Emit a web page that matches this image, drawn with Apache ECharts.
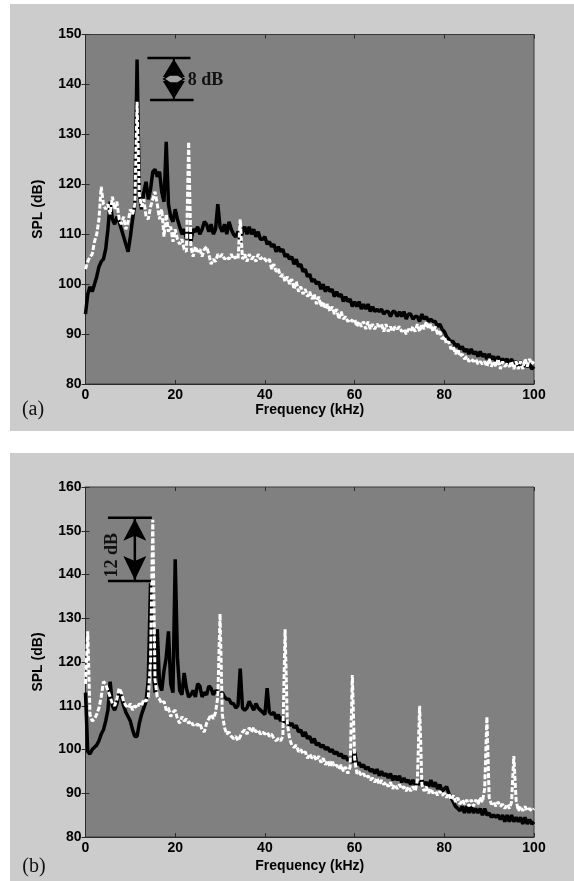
<!DOCTYPE html>
<html><head><meta charset="utf-8">
<script src="https://cdn.jsdelivr.net/npm/echarts@6/dist/echarts.min.js"></script>
<style>html,body{margin:0;padding:0;background:#fff}#c{width:574px;height:881px}</style>
</head><body><div id="c"></div>
<script>
// Frequency sampling (kHz)
const freq = [0,0.5,1,1.5,2,2.5,3,3.5,4,4.5,5,5.5,6,6.5,7,7.5,8,8.5,9,9.5,
10,10.5,11,11.5,12,12.5,13,13.5,14,14.5,15,15.5,16,16.5,17,17.5,18,18.5,19,19.5,
20,20.5,21,21.5,22,22.5,23,23.5,24,24.5,25,25.5,26,26.5,27,27.5,28,28.5,29,29.5,
30,30.5,31,31.5,32,32.5,33,33.5,34,34.5,35,35.5,36,36.5,37,37.5,38,38.5,39,39.5,
40,40.5,41,41.5,42,42.5,43,43.5,44,44.5,45,45.5,46,46.5,47,47.5,48,48.5,49,49.5,
50,50.5,51,51.5,52,52.5,53,53.5,54,54.5,55,55.5,56,56.5,57,57.5,58,58.5,59,59.5,
60,60.5,61,61.5,62,62.5,63,63.5,64,64.5,65,65.5,66,66.5,67,67.5,68,68.5,69,69.5,
70,70.5,71,71.5,72,72.5,73,73.5,74,74.5,75,75.5,76,76.5,77,77.5,78,78.5,79,79.5,
80,80.5,81,81.5,82,82.5,83,83.5,84,84.5,85,85.5,86,86.5,87,87.5,88,88.5,89,89.5,
90,90.5,91,91.5,92,92.5,93,93.5,94,94.5,95,95.5,96,96.5,97,97.5,98,98.5,99,99.5,100];

// Panel (a): SPL (dB)
const splA_black = [
94,98,99.5,98.5,100,101.5,103.5,104.5,105,107,
111,116.5,113,112,113.5,112.5,111,109.5,108,106.5,
109.5,113,116,145,118,115,118.5,120.5,117,119,
122.5,123,121.5,122.5,118.5,116.5,128.5,116,113.5,112.5,
115,113,111.5,110,111,109,110.5,108.5,111,110.5,
111.5,110,111,112.5,112,110.5,112,110,111,116,
111.5,110.5,112,110,112.5,111,110,109.5,110.5,108.5,
110.5,111.5,110,111.5,110,111,109.5,110.5,109,109,
109.5,108,108.5,107.5,108,106.5,107.5,106.5,107,105.5,
106,105,105.5,104,105,103.5,104,102.5,103,101.5,
102,100.5,101,100,100.5,99,100,98.5,99.5,98.5,
99,97.5,98.5,97.5,98,96.5,97.5,96.5,97,95.5,
96.5,95.5,96.5,95,96,95,96,94.5,95.5,94.5,
95,94.5,95,94,94.5,94.5,93.5,94.5,94.5,93.5,
94.5,93.5,94.5,93,94,94,93,93.5,93.5,92.5,
94,93,93.5,92.5,93,92.5,92.5,91.5,92,91,
90.5,89.5,89,88.5,88.5,87.5,88,87,87.5,86.5,
87,86,87,86,86.5,85.5,86.5,85.5,86,85,
86,85,85.5,84.5,85.5,84.5,85,84.5,85,84,
85,84,84.5,83.5,84.5,83.5,84,83.5,84,83,
83.5];
const splA_white = [
103,104.5,105.5,106,108.5,110,113,119.5,116,115,
116,114,117.5,115,116.5,113,112,113.5,111,112.5,
115,114,116,136.5,118,115.5,117,113.5,113,115.5,
117,118.5,116,113,115,109.5,114,110.5,111.5,108.5,
111,109,108,109,107,106.5,128.5,107.5,105.5,107.5,
106.5,107,105.5,107,107.5,106,104,105,104.5,106,
105.5,106,105,105.5,105,106,105,105.5,105,113,
105,106,104.5,106,105,105.5,104.5,106,105,105.5,
105,104.5,105,103,104,102.5,103,101.5,102,100.5,
101.5,100,101,99,100.5,98.5,99.5,98,99,97.5,
98.5,97,98,96,97.5,95.5,96.5,95,96,94.5,
95.5,94,95,93,94.5,93,93.5,92.5,93,92.5,
93,91.5,92.5,91.5,92.5,91,92.5,91,92,91,
92,91.5,92,90.5,92,90.5,91.5,90.5,91.5,91,
91.5,90.5,91,90,91,90.5,91.5,90.5,92,90.5,
92,91,92.5,91,92,90.5,91.5,90,90.5,89,
89.5,88,88.5,87,87.5,86,87,85.5,86,85,
85.5,84.5,85,84.5,85,84,84.5,84,84.5,83.5,
85,83.5,84.5,83.5,85,83,84.5,83.5,84,83.5,
84.5,83,84.5,83,84.5,83,85,83.5,85,84,
84.5];

// Panel (b): SPL (dB)
const splB_black = [
113,99.5,99,100,100.5,101,102,103.5,104.5,106.5,
109,115.5,110,109,110.5,113,112,110,108.5,107.5,
106.5,104.5,103,103,106,108,109.5,111,116,138,
119,113,127.5,115,113.5,118,121,127,115,113,
143.5,121,113.5,112.5,117.5,114,112,112.5,113.5,112,
115,114.5,112,113,112.5,114.5,114,112.5,113.5,113,
112.5,113,112,111.5,111.5,110.5,110.5,109.5,110,118.5,
109.5,109,109.5,111,110,109,110.5,109.5,109,108.5,
108,114,108.5,108,108.5,107,108,106.5,107.5,106,
106.5,105.5,106,105,105.5,104,104.5,103,104,102.5,
103,101.5,102.5,101,101.5,100.5,101,100,100.5,99.5,
100,99,99.5,98.5,99,98,98.5,97.5,98,97,
99.5,96.5,97,96,96.5,95.5,96,95,95.5,94.5,
95.5,94,95,94,94.5,93.5,94.5,93,94,93,
94,92.5,93.5,92.5,93,92,93,92,92.5,92,
93,92,92.5,91.5,93,91.5,92.5,91,92,90.5,
91,91.5,90,89,88,87,86.5,86,87,85.5,
87,85.5,87,85.5,86.5,85.5,86.5,85,86.5,85,
85.5,84.5,85,84.5,85,84,85,83.5,85,83.5,
85,83.5,84.5,83.5,84.5,83,84.5,83,84,83,
83.5];
const splB_white = [
115,127,108,106.5,107,108,109.5,112,115.5,115,
113.5,112,110.5,110,111.5,114,113,111,110,109.5,
110.5,109,110,109.5,110.5,110,111.5,111,112,120,
152.5,116,112,111.5,110.5,111,109,109.5,107.5,108.5,
109,107,106,107.5,106.5,107,106,106.5,105.5,106,
105.5,106,104.5,104,106,107,108,107,108.5,112,
131,108,105,103.5,104,103,102.5,103,102,103,
104,104.5,103.5,105,104,105,104,104.5,103.5,104,
103.5,104,103,103.5,102.5,102,102.5,102,103,127.5,
106,102.5,101,100.5,101,99.5,100,99,99.5,98,
99,98,98.5,97.5,98.5,97,98,96.5,97.5,96,
97.5,96,96.5,95.5,96.5,95,96,94.5,96,117,
98,94.5,95,94,94.5,93.5,94,93,93.5,92.5,
93.5,92,93,92,92.5,91.5,92.5,91,92,91,
92,91,91.5,90.5,91.5,90.5,91.5,90.5,93,110,
92,90.5,91.5,90,91,90,90.5,89.5,90.5,89.5,
90,89,90,88.5,89.5,88,89,87.5,88.5,87.5,
88.5,87,88.5,87,88.5,87.5,89,88,91,107.5,
89,87.5,88,87,88,87,87.5,86.5,87.5,86.5,
88,98.5,88.5,86,87,86,87,86,86.5,86,
86.5];

// Axis ranges / ticks
const xRange = [0, 100], xStep = 20;
const yRangeA = [80, 150], yRangeB = [80, 160], yStep = 10;
const panelLabels = ['(a)', '(b)'];
const annoA = '8 dB', annoB = '12 dB';

const chart = echarts.init(document.getElementById('c'), null, {renderer: 'canvas'});
const LBL = {fontFamily: '"Liberation Sans", Arial, sans-serif', fontWeight: 'bold', fontSize: 14, color: '#000'};
const TICK = {show: true, inside: true, length: 4, lineStyle: {color: '#2a2a2a', width: 1}};

function xAxes(gi, gap) {
  return [
    {gridIndex: gi, type: 'value', min: xRange[0], max: xRange[1], interval: xStep, position: 'bottom',
     axisLine: {show: true, onZero: false, lineStyle: {color: '#2a2a2a', width: 1}}, axisTick: TICK,
     axisLabel: Object.assign({margin: 4}, LBL), splitLine: {show: false},
     name: 'Frequency (kHz)', nameLocation: 'middle', nameGap: gap, nameTextStyle: Object.assign({}, LBL)},
    {gridIndex: gi, type: 'value', min: xRange[0], max: xRange[1], interval: xStep, position: 'top',
     axisLine: {show: false}, axisTick: TICK, axisLabel: {show: false}, splitLine: {show: false}}
  ];
}
function yAxes(gi, r) {
  return [
    {gridIndex: gi, type: 'value', min: r[0], max: r[1], interval: yStep, position: 'left',
     axisLine: {show: true, onZero: false, lineStyle: {color: '#2a2a2a', width: 1}}, axisTick: TICK,
     axisLabel: Object.assign({margin: 4}, LBL), splitLine: {show: false},
     name: 'SPL (dB)', nameLocation: 'middle', nameGap: 40, nameRotate: 90, nameTextStyle: Object.assign({}, LBL)},
    {gridIndex: gi, type: 'value', min: r[0], max: r[1], interval: yStep, position: 'right',
     axisLine: {show: false}, axisTick: TICK, axisLabel: {show: false}, splitLine: {show: false}}
  ];
}
function pairs(arr) { return freq.map((f, i) => [f, arr[i]]); }
const blackStyle = {color: '#000', width: 3.5};
const whiteStyle = {color: '#fff', width: 3, type: [5, 2]};
function line(xi, yi, arr, st, z) {
  return {type: 'line', xAxisIndex: xi, yAxisIndex: yi, data: pairs(arr), showSymbol: false, symbol: 'none',
          lineStyle: st, z: z, animation: false, clip: true, silent: true};
}

const gridStyle = {show: true, backgroundColor: '#808080', borderColor: '#3a3a3a', borderWidth: 1, containLabel: false, outerBoundsMode: 'none'};
chart.setOption({
  backgroundColor: '#ffffff',
  animation: false,
  grid: [
    Object.assign({left: 85.5, top: 34.5, width: 448.5, height: 349.5}, gridStyle),
    Object.assign({left: 85.5, top: 487, width: 448.5, height: 350}, gridStyle)
  ],
  xAxis: xAxes(0, 19).concat(xAxes(1, 22)),
  yAxis: yAxes(0, yRangeA).concat(yAxes(1, yRangeB)),
  series: [
    line(0, 0, splA_black, blackStyle, 2),
    line(0, 0, splA_white, whiteStyle, 3),
    line(2, 2, splB_black, blackStyle, 2),
    line(2, 2, splB_white, whiteStyle, 3)
  ]
});

function P(gi, x, y) { return chart.convertToPixel({gridIndex: gi}, [x, y]); }
const SERIF = '"Liberation Serif", "Times New Roman", serif';
const g = [];
g.push({type: 'rect', shape: {x: 10, y: 4, width: 564, height: 427}, style: {fill: '#cccccc'}, z: -100});
g.push({type: 'rect', shape: {x: 10, y: 453, width: 564, height: 428}, style: {fill: '#cccccc'}, z: -100});
function hline(a, b) { g.push({type: 'line', shape: {x1: a[0], y1: a[1], x2: b[0], y2: b[1]}, style: {stroke: '#000', lineWidth: 2.5}, z: 100}); }

// 8 dB annotation (panel a)
{
  const t1 = P(0, 13.8, 145.3), t2 = P(0, 23.4, 145.3);
  const b1 = P(0, 14.4, 136.9), b2 = P(0, 24.1, 136.9);
  hline(t1, t2); hline(b1, b2);
  const ax = P(0, 19.7, 140)[0], yT = t1[1], yB = b1[1], ym = (yT + yB) / 2;
  g.push({type: 'line', shape: {x1: ax, y1: yT, x2: ax, y2: yB}, style: {stroke: '#000', lineWidth: 2}, z: 100});
  g.push({type: 'polygon', shape: {points: [[ax, yT + 1], [ax + 11, ym - 2], [ax - 11, ym - 2]]}, style: {fill: '#000'}, z: 100});
  g.push({type: 'polygon', shape: {points: [[ax, yB - 1], [ax + 11, ym + 2], [ax - 11, ym + 2]]}, style: {fill: '#000'}, z: 100});
  g.push({type: 'polygon', shape: {points: [[ax - 10, ym], [ax - 4, ym - 4], [ax + 4, ym - 4], [ax + 10, ym], [ax + 4, ym + 4], [ax - 4, ym + 4]]},
          style: {fill: '#a0a0a0', stroke: '#000', lineWidth: 1.5}, z: 101});
  g.push({type: 'text', x: ax + 14, y: ym + 1, style: {text: annoA, font: 'bold 18px ' + SERIF, fill: '#111', align: 'left', verticalAlign: 'middle'}, z: 100});
}
// 12 dB annotation (panel b)
{
  const t1 = P(1, 5.0, 153), t2 = P(1, 14.8, 153);
  const b1 = P(1, 5.0, 138.5), b2 = P(1, 14.6, 138.5);
  hline(t1, t2); hline(b1, b2);
  const ax = P(1, 11.0, 145)[0], yT = t1[1], yB = b1[1];
  g.push({type: 'line', shape: {x1: ax, y1: yT, x2: ax, y2: yB}, style: {stroke: '#000', lineWidth: 2.5}, z: 100});
  g.push({type: 'polygon', shape: {points: [[ax, yT + 1], [ax + 11.5, yT + 23], [ax, yT + 18], [ax - 11.5, yT + 23]]}, style: {fill: '#000'}, z: 100});
  g.push({type: 'polygon', shape: {points: [[ax, yB - 1], [ax + 11.5, yB - 25], [ax, yB - 20], [ax - 11.5, yB - 25]]}, style: {fill: '#000'}, z: 100});
  const tx = P(1, 5.9, 145)[0];
  g.push({type: 'text', x: tx, y: (yT + yB) / 2 + 6, rotation: Math.PI / 2,
          style: {text: annoB, font: 'bold 18px ' + SERIF, fill: '#111', align: 'center', verticalAlign: 'middle'}, z: 100});
}
g.push({type: 'text', x: 33, y: 410, style: {text: panelLabels[0], font: '20px ' + SERIF, fill: '#111', align: 'center', verticalAlign: 'middle'}, z: 100});
g.push({type: 'text', x: 34, y: 867, style: {text: panelLabels[1], font: '20px ' + SERIF, fill: '#111', align: 'center', verticalAlign: 'middle'}, z: 100});
chart.setOption({graphic: {elements: g}});
</script>
</body></html>
